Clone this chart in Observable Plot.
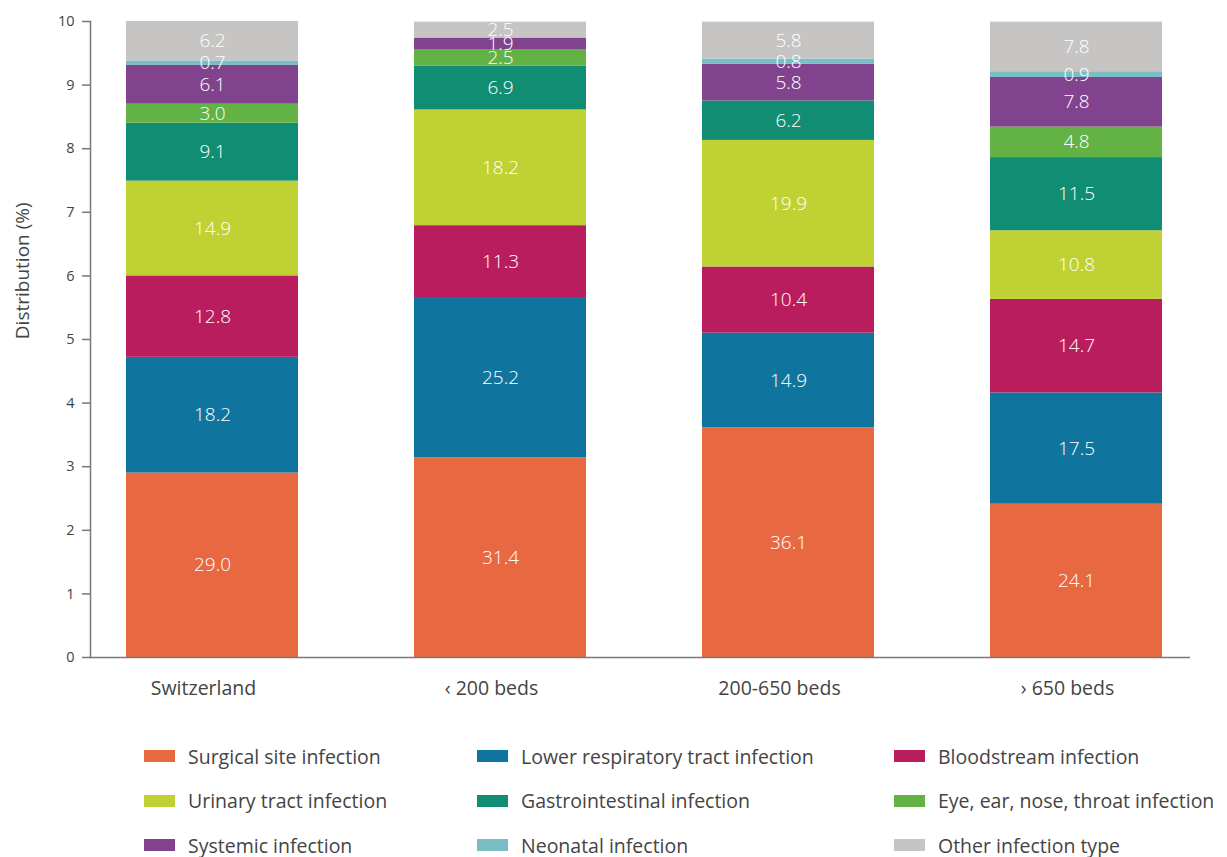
<!DOCTYPE html>
<html>
<head>
<meta charset="utf-8">
<script src="https://cdn.jsdelivr.net/npm/d3@7"></script>
<script src="https://cdn.jsdelivr.net/npm/@observablehq/plot@0.6"></script>
<style>
  body { margin: 0; background: #fff; font-family: "Open Sans", sans-serif; overflow: hidden; }
  #legend { display: grid; grid-template-columns: 333px 417px 320px; padding-left: 144px; margin-top: 14px; }
  .item { display: flex; align-items: center; height: 44.5px; font-size: 19.5px; line-height: 1; color: #444; white-space: nowrap; }
  .sw { width: 31px; height: 12px; margin-right: 13px; flex: none; }
</style>
</head>
<body>
<div id="chart"></div>
<div id="legend"></div>
<script>
const categories = ["Switzerland", "‹ 200 beds", "200-650 beds", "› 650 beds"];
const types = [
  "Surgical site infection",
  "Lower respiratory tract infection",
  "Bloodstream infection",
  "Urinary tract infection",
  "Gastrointestinal infection",
  "Eye, ear, nose, throat infection",
  "Systemic infection",
  "Neonatal infection",
  "Other infection type"
];
const colors = ["#E86842", "#10759E", "#BA1D5D", "#BFD133", "#118D73", "#62B246", "#82438E", "#7ABDC4", "#C6C5C3"];
// values per type, in order of categories
const surgical = [29.0, 31.4, 36.1, 24.1];
const lowerResp = [18.2, 25.2, 14.9, 17.5];
const bloodstream = [12.8, 11.3, 10.4, 14.7];
const urinary = [14.9, 18.2, 19.9, 10.8];
const gastro = [9.1, 6.9, 6.2, 11.5];
const ent = [3.0, 2.5, 0, 4.8];
const systemic = [6.1, 1.9, 5.8, 7.8];
const neonatal = [0.7, 0, 0.8, 0.9];
const other = [6.2, 2.5, 5.8, 7.8];
const yTicks = [0, 10, 20, 30, 40, 50, 60, 70, 80, 90, 100];
const yLabel = "Distribution (%)";

const series = [surgical, lowerResp, bloodstream, urinary, gastro, ent, systemic, neonatal, other];
const table = [];
types.forEach((t, i) => categories.forEach((c, j) => {
  if (series[i][j] > 0) table.push({category: c, type: t, value: series[i][j]});
}));

const font = "Open Sans, sans-serif";
const chart = Plot.plot({
  width: 1227,
  height: 720,
  marginLeft: 90,
  marginRight: 37,
  marginTop: 21,
  marginBottom: 63,
  style: {fontFamily: font, background: "#fff"},
  x: {domain: categories, range: [94, 1194], paddingInner: 0.403, paddingOuter: 0.111, label: null},
  y: {domain: [0, 100], label: null},
  color: {domain: types, range: colors},
  marks: [
    Plot.barY(table, Plot.stackY({x: "category", y: "value", z: "type", fill: "type", order: types})),
    Plot.text(table, Plot.stackY({x: "category", y: "value", z: "type", order: types,
      text: d => d.value.toFixed(1), fill: "white", fontSize: 19, fontWeight: 300})),
    Plot.axisX({tickSize: 0, tickPadding: 24, dx: -9, fontSize: 19.5, fill: "#444"}),
    Plot.axisY({ticks: yTicks, tickFormat: d => d / 10, tickSize: 8, tickPadding: 8, fontSize: 14.5, fill: "#444", stroke: "#777", strokeWidth: 1.5}),
    Plot.ruleY([0], {stroke: "#777", strokeWidth: 1.5}),
    Plot.frame({anchor: "left", stroke: "#777", strokeWidth: 1.5}),
    Plot.text([yLabel], {frameAnchor: "left", y: [60.8], text: d => d, rotate: -90, dx: -68, fontSize: 19, fill: "#444", textAnchor: "middle"})
  ]
});
document.getElementById("chart").appendChild(chart);

const legend = document.getElementById("legend");
types.forEach((t, i) => {
  const it = document.createElement("div");
  it.className = "item";
  const sw = document.createElement("span");
  sw.className = "sw";
  sw.style.background = colors[i];
  it.appendChild(sw);
  it.appendChild(document.createTextNode(t));
  legend.appendChild(it);
});
</script>
</body>
</html>
